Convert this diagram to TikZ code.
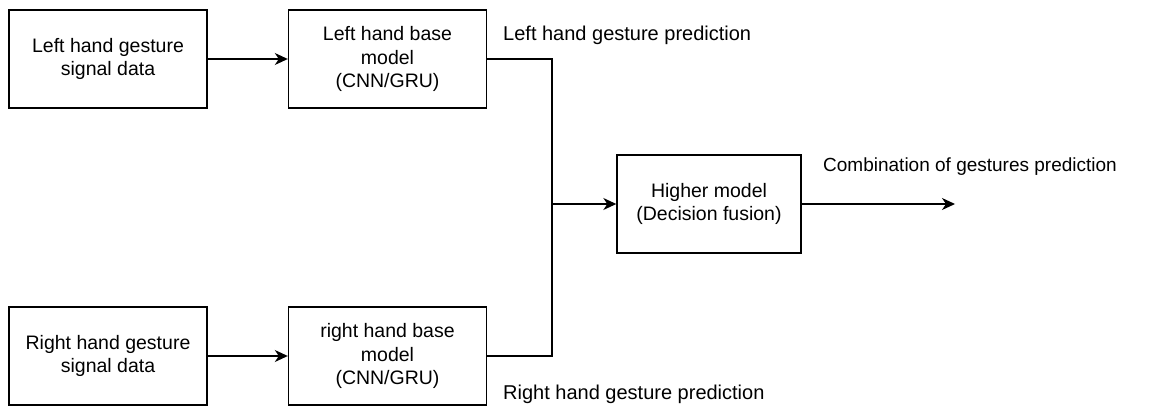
\documentclass[tikz,border=0pt]{standalone}
\usepackage{fontspec}
\setmainfont{Liberation Sans}
\usetikzlibrary{arrows.meta}
\begin{document}
\begin{tikzpicture}[x=1pt,y=-1pt,
  box/.style={draw, line width=1.4pt, minimum width=198pt, minimum height=98pt, align=center, inner sep=0pt, font=\fontsize{19.5}{23.5}\selectfont},
  conn/.style={line width=1.4pt},
  arr/.style={conn, -{Stealth[length=13pt,width=12pt,inset=4pt]}},
  lbl/.style={anchor=base west, inner sep=0pt, font=\fontsize{20}{24}\selectfont}]
\useasboundingbox (0,0) rectangle (1161,406);
\node[box] (lin) at (108,59) {Left hand gesture\\signal data};
\node[box] (lbm) at (387.5,59) {Left hand base\\model\\(CNN/GRU)};
\node[box] (rin) at (108,356) {Right hand gesture\\signal data};
\node[box] (rbm) at (387.5,356) {right hand base\\model\\(CNN/GRU)};
\node[box, minimum width=184pt] (hm) at (709,204) {Higher model\\(Decision fusion)};
\coordinate (j) at (552,204);
\coordinate (out) at (955,204);
\draw[arr] (lin) -- (lbm);
\draw[arr] (rin) -- (rbm);
\draw[conn] (lbm.east) -| (j);
\draw[conn] (rbm.east) -| (j);
\draw[arr] (j) -- (hm.west);
\draw[arr] (hm) -- (out);
\node[lbl] (ltxt) at (503,41) {Left hand gesture prediction};
\node[lbl] (rtxt) at (503,399) {Right hand gesture prediction};
\node[lbl, font=\fontsize{19}{23}\selectfont] (ctxt) at (823,172) {Combination of gestures prediction};
\end{tikzpicture}
\end{document}
